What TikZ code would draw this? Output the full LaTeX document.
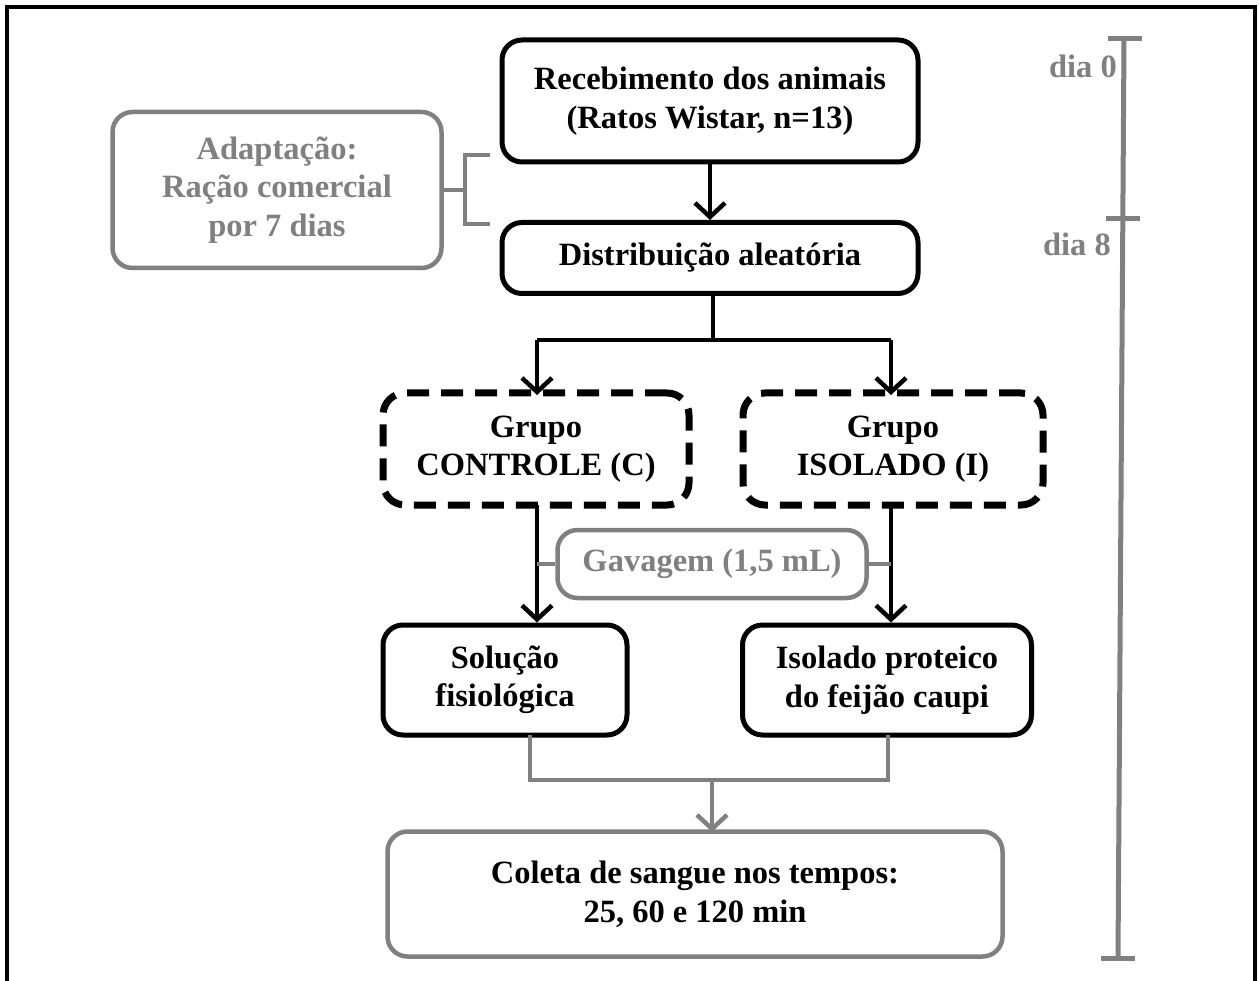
\documentclass[tikz,border=0pt]{standalone}
\usepackage{fontspec}
\setmainfont{Liberation Serif}
\usetikzlibrary{arrows.meta,calc}
\definecolor{gr}{RGB}{128,128,128}
\begin{document}
\begin{tikzpicture}[x=1pt,y=-1pt,
  every node/.style={font=\fontsize{32.5}{38.5}\selectfont\bfseries, align=center, inner sep=0pt},
  bbox/.style={draw=black, line width=5pt, rounded corners=20pt},
  gbox/.style={draw=gr, text=gr, line width=4.5pt, rounded corners=20pt},
  gtxtbox/.style={draw=gr, text=black, line width=4.5pt, rounded corners=20pt},
  dbox/.style={draw=black, line width=7pt, rounded corners=22pt, dash pattern=on 22pt off 12pt},
  arr/.style={line width=4pt, -{Straight Barb[length=14pt,width=30pt,line width=4.5pt]}},
  garr/.style={draw=gr, line width=4.5pt, -{Straight Barb[length=14pt,width=30pt,line width=4.5pt]}},
  gline/.style={draw=gr, line width=4.5pt},
  tl/.style={draw=gr, line width=5pt}]
\useasboundingbox (0,0) rectangle (1259,981);
% frame (open at the bottom)
\draw[line width=4pt] (7,981) -- (7,7) -- (1255,7) -- (1255,981);

% nodes
\node[bbox, minimum width=416pt, minimum height=122pt] (rec) at (710,101)
  {\rule{0pt}{0pt}Recebimento dos animais\\(Ratos Wistar, n=13)};
\node[bbox, minimum width=416pt, minimum height=71pt] (dist) at (710,258)
  {Distribuição aleatória};
\node[gbox, minimum width=329pt, minimum height=156pt] (adap) at (277,190)
  {Adaptação:\\Ração comercial\\por 7 dias};
\node[dbox, minimum width=306pt, minimum height=112pt] (ctrl) at (536,449)
  {Grupo\\CONTROLE (C)};
\node[dbox, minimum width=300pt, minimum height=112pt] (iso) at (893,449)
  {Grupo\\ISOLADO (I)};
\node[gbox, minimum width=309pt, minimum height=68pt] (gav) at (712,564)
  {Gavagem (1,5 mL)};
\node[bbox, minimum width=244pt, minimum height=110pt] (sol) at (505,680)
  {Solução\\fisiológica};
\node[bbox, minimum width=289pt, minimum height=110pt] (isp) at (887,680)
  {Isolado proteico\\do feijão caupi};
\node[gtxtbox, minimum width=615pt, minimum height=125pt] (col) at (695,894)
  {Coleta de sangue nos tempos:\\25, 60 e 120 min};

% timeline labels
\node[text=gr, anchor=east] (d0) at (1117,66) {dia 0};
\node[text=gr, anchor=east] (d8) at (1111,244) {dia 8};

% connectors
\draw[arr] (rec.south) -- (dist.north);
\coordinate (split) at (713,340);
\draw[line width=4pt] (dist.south -| split) -- (split);
\draw[line width=4pt] (537,340) -- (891,340);
\draw[arr] (537,340) -- (537,395);
\draw[arr] (891,340) -- (891,395);
\coordinate (cb) at (537,505);
\coordinate (ib) at (891,505);
\draw[arr] (cb) -- (cb |- sol.north);
\draw[arr] (ib) -- (ib |- isp.north);
\draw[gline] (cb |- gav.west) -- (gav.west);
\draw[gline] (gav.east) -- (ib |- gav.east);

% bottom merge
\coordinate (sb) at (530,735);
\coordinate (ibb) at (888,735);
\draw[gline] (sb) -- (530,780) -- (888,780) -- (ibb);
\draw[garr] (712,780) -- (712,832);

% bracket
\coordinate (brm) at (465,190);
\draw[gline] (adap.east |- brm) -- (brm);
\draw[gline] (490,155) -- (465,155) -- (465,224) -- (490,224);

% timeline
\coordinate (t0) at (1124,39);
\coordinate (t8) at (1122,219);
\coordinate (tend) at (1118,958);
\draw[tl] (t0) -- (tend);
\draw[tl] (1108,39) -- (1142,39);
\draw[tl] (1106,219) -- (1140,219);
\draw[tl] (1101,958) -- (1135,958);
\end{tikzpicture}
\end{document}
